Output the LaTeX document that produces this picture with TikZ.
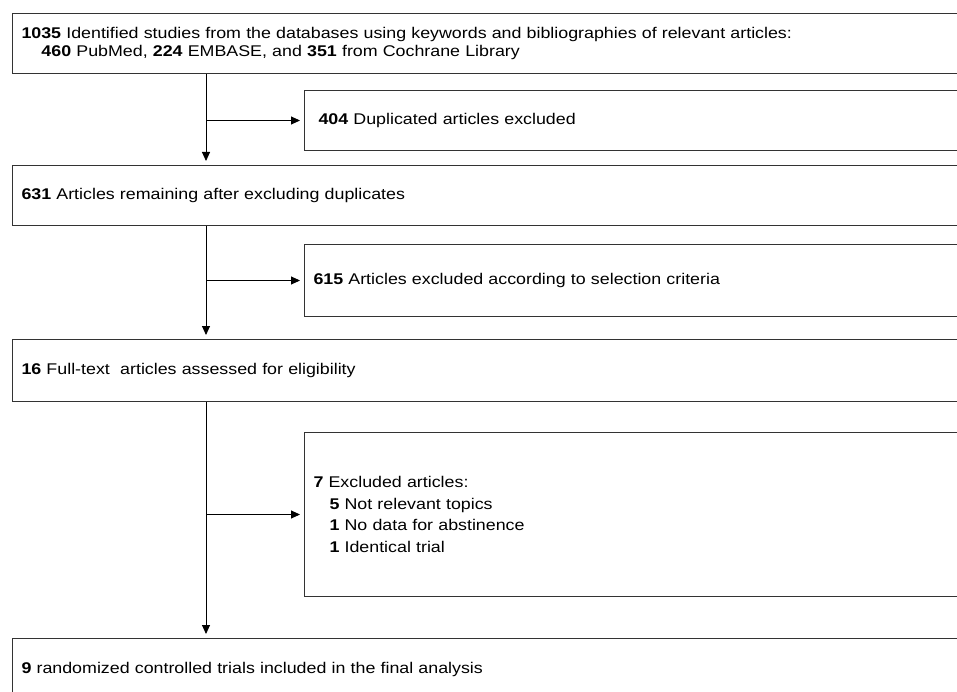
\documentclass[tikz,border=0pt]{standalone}
\usepackage{fontspec}
\setmainfont{Liberation Sans}[FakeStretch=1.15]
\usetikzlibrary{arrows.meta}

\tikzset{
  box/.style={draw=black!80, line width=1pt, anchor=north west, align=left,
    text width=980pt, inner xsep=9pt, inner ysep=0pt,
    font=\fontsize{15.5}{17.5}\selectfont},
  arr/.style={-{Triangle[length=9pt,width=8pt]}, line width=0.9pt, shorten >=4pt}
}

\begin{document}
\begin{tikzpicture}[x=1pt,y=-1pt]
    \useasboundingbox (0,0) rectangle (957,692);
    \clip (0,0) rectangle (957,692);
    \fill[white] (0,0) rectangle (957,692);
        \coordinate (trunk) at (206,0);
        \node[box, minimum height=60pt] (ident) at (12,13)
            {\textbf{1035} Identified studies from the databases using keywords and bibliographies of relevant articles:\\
             \hspace*{20pt}\textbf{460} PubMed, \textbf{224} EMBASE, and \textbf{351} from Cochrane Library};
        \node[box, minimum height=60pt, inner xsep=14pt] (dupl) at (304,90)
            {\textbf{404} Duplicated articles excluded};
        \node[box, minimum height=60pt] (remain) at (12,165)
            {\textbf{631} Articles remaining after excluding duplicates};
        \node[box, minimum height=72pt] (crit) at (304,244)
            {\textbf{615} Articles excluded according to selection criteria};
        \node[box, minimum height=62pt] (full) at (12,339)
            {\textbf{16} Full-text\ \ articles assessed for eligibility};
        \node[box, minimum height=164pt, font=\fontsize{15.5}{21.5}\selectfont] (excl) at (304,432)
            {\textbf{7} Excluded articles:\\
             \hspace*{16pt}\textbf{5} Not relevant topics\\
             \hspace*{16pt}\textbf{1} No data for abstinence\\
             \hspace*{16pt}\textbf{1} Identical trial};
        \node[box, minimum height=62pt] (final) at (12,638)
            {\textbf{9} randomized controlled trials included in the final analysis};
        \draw[arr] (trunk |- ident.south) -- (trunk |- remain.north);
        \draw[arr] (trunk |- remain.south) -- (trunk |- full.north);
        \draw[arr] (trunk |- full.south) -- (trunk |- final.north);
        \draw[arr] (trunk |- dupl.west) -- (dupl.west);
        \draw[arr] (trunk |- crit.west) -- (crit.west);
        \draw[arr] (trunk |- excl.west) -- (excl.west);
\end{tikzpicture}
\end{document}
